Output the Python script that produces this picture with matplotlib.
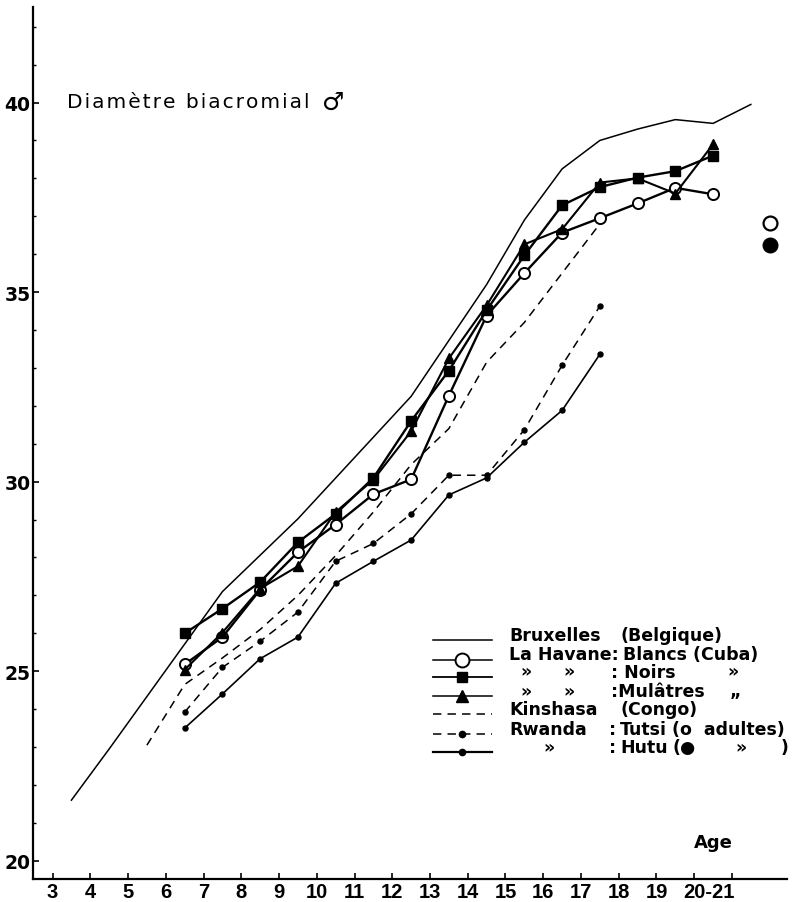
import matplotlib
matplotlib.use("Agg")
import matplotlib.pyplot as plt
from matplotlib.lines import Line2D
from matplotlib.ticker import MultipleLocator

plt.rcParams['font.family'] = ['DejaVu Sans']

W, H = 793, 903

# Bruxelles (Belgique)
age_bxl = [3.5, 4.5, 7.5, 9.5, 12.5, 14.5, 15.5, 16.5, 17.5, 18.5, 19.5, 20.5, 21.5]
bxl = [21.6, 22.95, 27.1, 29.02, 32.25, 35.2, 36.9, 38.25, 39.0, 39.3, 39.55, 39.45, 39.95]

# La Havane (Cuba)
age_cuba = [6.5, 7.5, 8.5, 9.5, 10.5, 11.5, 12.5, 13.5, 14.5, 15.5, 16.5, 17.5, 18.5, 19.5, 20.5]
blancs = [25.18, 25.9, 27.15, 28.14, 28.87, 29.67, 30.06, 32.27, 34.38, 35.5, 36.57, 36.95, 37.34, 37.75, 37.58]
noirs = [26.0, 26.65, 27.35, 28.4, 29.15, 30.1, 31.6, 32.93, 34.52, 35.97, 37.29, 37.77, 38.02, 38.19, 38.6]
mulatres = [25.04, 26.02, 27.18, 27.77, 29.2, 30.05, 31.33, 33.25, 34.65, 36.26, 36.66, 37.89, 38.0, 37.6, 38.9]

# Kinshasa (Congo)
age_kin = [5.5, 6.5, 7.5, 8.5, 9.5, 10.5, 11.5, 12.5, 13.5, 14.5, 15.5, 16.5, 17.5]
kinshasa = [23.05, 24.65, 25.35, 26.1, 27.0, 28.05, 29.2, 30.45, 31.4, 33.15, 34.2, 35.5, 36.8]

# Rwanda
age_rw = [6.5, 7.5, 8.5, 9.5, 10.5, 11.5, 12.5, 13.5, 14.5, 15.5, 16.5, 17.5]
tutsi = [23.92, 25.1, 25.79, 26.56, 27.9, 28.37, 29.15, 30.17, 30.17, 31.37, 33.07, 34.63]
hutu = [23.5, 24.4, 25.33, 25.9, 27.32, 27.9, 28.46, 29.65, 30.1, 31.04, 31.88, 33.36]
age_adult = 22
tutsi_adult = 36.83
hutu_adult = 36.23

xtick_ages = list(range(3, 22))
xtick_labels = [str(a) for a in range(3, 20)] + ['', '']

narrow = ['Liberation Sans Narrow', 'Liberation Sans']

dash = (0, (5.5, 4))
styles = {
    'bxl': dict(color='black', lw=1.1, ls='-'),
    'blancs': dict(color='black', lw=1.7, marker='o', ms=8, mfc='white', mec='black', mew=1.4),
    'noirs': dict(color='black', lw=1.7, marker='s', ms=6.5),
    'mul': dict(color='black', lw=1.5, marker='^', ms=7.5),
    'kin': dict(color='black', lw=1.1, ls=dash),
    'tutsi': dict(color='black', lw=1.1, ls=dash, marker='o', ms=3.6),
    'hutu': dict(color='black', lw=1.2, marker='o', ms=3.6),
}
# legend keys are drawn a little larger and with thinner lines
legend_tweak = {
    'blancs': dict(ms=10, lw=1.1),
    'noirs': dict(ms=7, lw=1.3),
    'mul': dict(ms=8, lw=1.1),
    'tutsi': dict(ms=4.5),
    'hutu': dict(ms=4.5, lw=1.6),
}

fig = plt.figure(figsize=(W / 100, H / 100), dpi=100)
ax = fig.add_axes([33.3 / W, 1 - 880 / H, (786.7 - 33.3) / W, (880 - 8) / H])

ax.plot(age_bxl, bxl, **styles['bxl'], zorder=2)
ax.plot(age_kin, kinshasa, **styles['kin'], zorder=2)
ax.plot(age_rw, tutsi, **styles['tutsi'], zorder=2)
ax.plot(age_rw, hutu, **styles['hutu'], zorder=2)
ax.plot(age_cuba, blancs, **styles['blancs'], zorder=3)
ax.plot(age_cuba, noirs, **styles['noirs'], zorder=4)
ax.plot(age_cuba, mulatres, **styles['mul'], zorder=5)

# adult values for Rwanda
ax.plot([age_adult], [tutsi_adult], 'o', ms=10, mfc='white', mec='black', mew=1.6, clip_on=False)
ax.plot([age_adult], [hutu_adult], 'o', ms=10.5, color='black', clip_on=False)

ax.set_xlim(2.49, 22.45)
ax.set_ylim(19.52, 42.52)

for s in ['top', 'right']:
    ax.spines[s].set_visible(False)
for s in ['left', 'bottom']:
    ax.spines[s].set_linewidth(1.6)

ax.set_xticks(xtick_ages)
ax.set_xticklabels(xtick_labels, fontfamily=narrow, fontweight='bold', fontsize=14.5)
ax.tick_params(axis='x', direction='in', length=4, width=1.2, pad=2)

ax.yaxis.set_major_locator(MultipleLocator(5))
ax.yaxis.set_minor_locator(MultipleLocator(1))
ax.tick_params(axis='y', which='major', direction='in', length=4, width=1.2, pad=2,
               labelsize=13.5)
ax.tick_params(axis='y', which='minor', direction='in', length=2.5, width=1)
for t in ax.get_yticklabels():
    t.set_fontweight('bold')

ax.text(20.4, -0.004, '20-21', transform=ax.get_xaxis_transform(), ha='center', va='top',
        fontfamily=narrow, fontweight='bold', fontsize=14.5)


def fx(x):
    return x / W


def fy(y):
    return 1 - y / H


title = '\u200a'.join('Diamètre biacromial')
fig.text(fx(66.7), fy(108.3), title, fontsize=14.5, va='baseline')
fig.text(fx(322), fy(110), '\u2642', fontsize=18, fontweight='bold', va='baseline')
fig.text(fx(713), fy(843), 'Age', fontsize=13, fontweight='bold', ha='center', va='center')

# hand made legend
legend_rows = [
    ('bxl', 640.7, [('Bruxelles', 509), ('(Belgique)', 620)]),
    ('blancs', 660.5, [('La Havane:', 509), ('Blancs (Cuba)', 623)]),
    ('noirs', 677.5, [('»', 520), ('»', 563), (': Noirs', 611), ('»', 727)]),
    ('mul', 697, [('»', 520), ('»', 563), (':Mulâtres', 611), ('„', 730)]),
    ('kin', 715, [('Kinshasa', 509), ('(Congo)', 620)]),
    ('tutsi', 735, [('Rwanda', 509), (':', 609), ('Tutsi', 620), ('(o  adultes)', 672)]),
    ('hutu', 753.3, [('»', 543), (':', 609), ('Hutu', 620), ('(\u25cf', 672), ('»', 735), (')', 781)]),
]
for key, ly, pieces in legend_rows:
    st = dict(styles[key])
    st.update(legend_tweak.get(key, {}))
    mk = {k: st.pop(k) for k in ['marker', 'ms', 'mfc', 'mec', 'mew'] if k in st}
    fig.add_artist(Line2D([fx(433), fx(492)], [fy(ly), fy(ly)], transform=fig.transFigure, **st))
    if mk:
        fig.add_artist(Line2D([fx(462)], [fy(ly)], transform=fig.transFigure, ls='none',
                              color='black', **mk))
    for txt, tx in pieces:
        fig.text(fx(tx), fy(ly), txt, fontsize=12.5, fontweight='bold', va='baseline')

fig.savefig('out.png', dpi=100)
